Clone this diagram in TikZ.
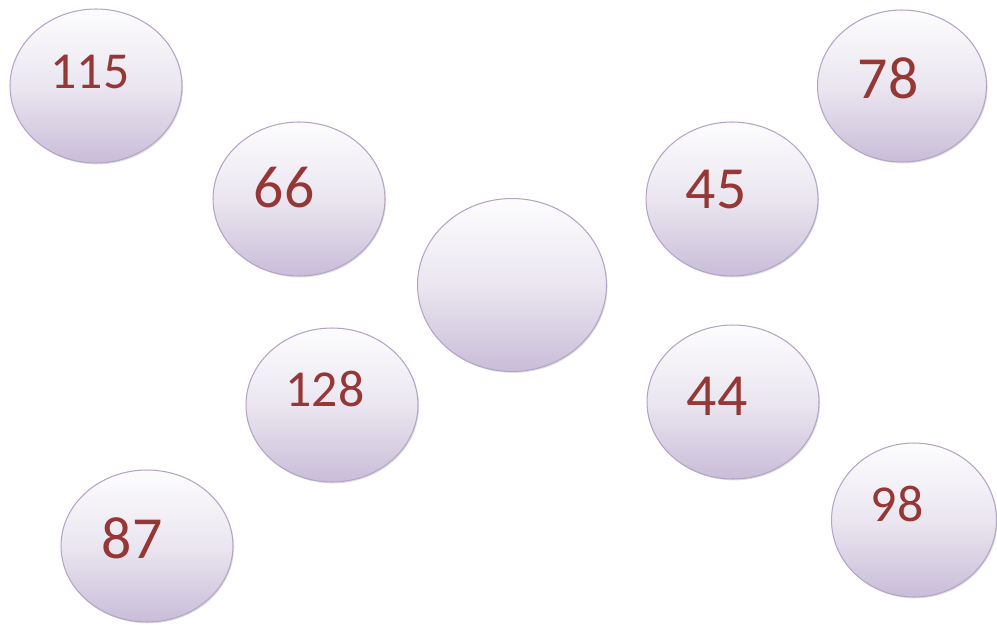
\documentclass[tikz,border=0pt]{standalone}
\usepackage{fontspec}
\setmainfont{Carlito}
\usetikzlibrary{shapes.geometric,shadows}
\definecolor{numred}{RGB}{149,55,53}
\definecolor{lilac}{RGB}{201,189,216}
\definecolor{lilacline}{RGB}{180,164,200}

\begin{document}
\begin{tikzpicture}[
  x=0.02cm, y=-0.02cm,
  bubble/.style={
    ellipse,
    draw=lilacline,
    line width=0.6pt,
    top color=white!96!lilac,
    bottom color=lilac,
    middle color=white!62!lilac,
    inner sep=0pt,
    minimum width=3.44cm,
    minimum height=3.08cm,
    drop shadow={shadow xshift=0.6pt, shadow yshift=-0.8pt, opacity=0.25, fill=gray}
  },
  num/.style={
    text=numred,
    inner sep=0pt,
    font=\fontsize{29.5}{31}\selectfont
  },
  bignum/.style={
    num,
    font=\fontsize{34}{36}\selectfont
  }
]

% page frame
\useasboundingbox (0,0) rectangle (997,625);

% left diagonal
\node[bubble] (b115) at (96,86) {};
\node[bubble] (b66) at (299,199) {};
\node[bubble] (b128) at (332,405) {};
\node[bubble, minimum height=3.04cm] (b87) at (147,546) {};

% centre, left empty
\node[bubble, minimum width=3.78cm, minimum height=3.46cm] (bmid) at (512,285) {};

% right diagonal
\node[bubble, minimum width=3.38cm, minimum height=3.04cm] (b78) at (902,86) {};
\node[bubble] (b45) at (732,199) {};
\node[bubble] (b44) at (733,402) {};
\node[bubble, minimum width=3.3cm] (b98) at (914,520) {};

% numbers, set a bit up and left of each centre
\node[num] (t115) at (90,72) {115};
\node[bignum] (t66) at (284,188) {66};
\node[num] (t128) at (325,389) {128};
\node[bignum] (t87) at (132,538) {87};
\node[bignum] (t78) at (888,78) {78};
\node[bignum] (t45) at (716,190) {45};
\node[bignum] (t44) at (717,396) {44};
\node[num] (t98) at (897,504) {98};

\end{tikzpicture}
\end{document}
